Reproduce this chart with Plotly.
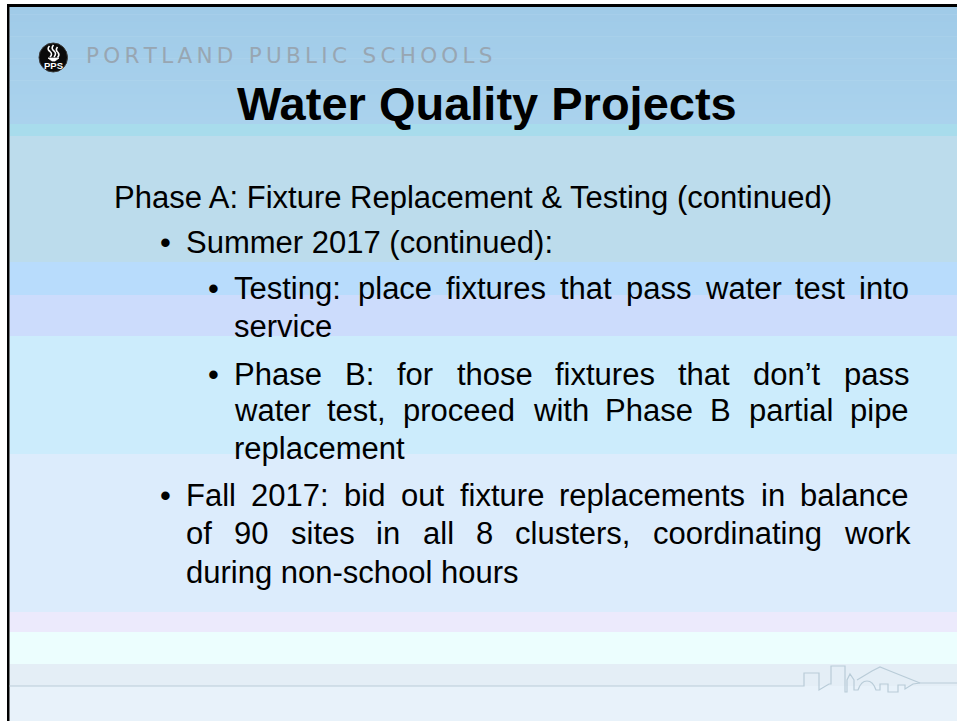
import plotly.graph_objects as go

# ---------------- content ----------------
HEADER_TEXT = "PORTLAND PUBLIC SCHOOLS"
LOGO_TEXT = "PPS"
TITLE = "Water Quality Projects"
BODY_LINES = [
    "Phase A: Fixture Replacement & Testing (continued)",
    "Summer 2017 (continued):",
    "Testing: place fixtures that pass water test into",
    "service",
    "Phase B: for those fixtures that don\u2019t pass",
    "water test, proceed with Phase B partial pipe",
    "replacement",
    "Fall 2017: bid out fixture replacements in balance",
    "of 90 sites in all 8 clusters, coordinating work",
    "during non-school hours",
]
LINE_LEVEL = [0, 1, 2, 2, 2, 2, 2, 1, 1, 1]
LINE_BULLET = [0, 1, 1, 0, 1, 0, 0, 1, 0, 0]
LINE_JUSTIFIED = [0, 0, 1, 0, 1, 1, 0, 1, 1, 0]

# ---------------- layout constants ----------------
W, H = 957, 721
BASELINES = [208, 253, 299, 337, 385, 421, 459, 506, 544, 583]
TEXT_X = {0: 113, 1: 185, 2: 233}
BULLET_X = {1: 158.5, 2: 206.5}
RIGHT_EDGE = 908
BODY_SIZE = 31
FONT = "Liberation Sans, Arial, sans-serif"

BAND_EDGES = [124, 136, 262, 295, 336, 454, 612, 632, 664, 686, 721]
BAND_COLORS = ["#a8dcec", "#bcdcec", "#b8dcfc", "#ccdcfc", "#ccecfc",
               "#dcecfc", "#eceafc", "#ecfefe", "#e4eef6", "#e8f2fa"]

# Arial advance widths (1/1000 em)
ARIAL = {' ': 278, '&': 667, '\u2019': 222, '(': 333, ')': 333, ',': 278, '-': 333,
         '.': 278, ':': 278,
         'A': 667, 'B': 667, 'C': 722, 'D': 722, 'E': 667, 'F': 611, 'G': 778, 'H': 722,
         'I': 278, 'J': 500, 'K': 667, 'L': 556, 'M': 833, 'N': 722, 'O': 778, 'P': 667,
         'Q': 778, 'R': 722, 'S': 667, 'T': 611, 'U': 722, 'V': 667, 'W': 944, 'X': 667,
         'Y': 667, 'Z': 611,
         'a': 556, 'b': 556, 'c': 500, 'd': 556, 'e': 556, 'f': 278, 'g': 556, 'h': 556,
         'i': 222, 'j': 222, 'k': 500, 'l': 222, 'm': 833, 'n': 556, 'o': 556, 'p': 556,
         'q': 556, 'r': 333, 's': 500, 't': 278, 'u': 556, 'v': 500, 'w': 722, 'x': 500,
         'y': 500, 'z': 500}


def text_w(s, size):
    return sum(ARIAL.get(c, 556) for c in s) / 1000.0 * size


def interp(c1, c2, t):
    a = [int(c1[i:i + 2], 16) for i in (1, 3, 5)]
    b = [int(c2[i:i + 2], 16) for i in (1, 3, 5)]
    return "#%02x%02x%02x" % tuple(round(a[k] + (b[k] - a[k]) * t) for k in range(3))


fig = go.Figure()
shapes = []
LEFT = 9.5

# top gradient header
steps = 16
y0, y1 = 7, BAND_EDGES[0]
for i in range(steps):
    ya = y0 + (y1 - y0) * i / steps
    yb = y0 + (y1 - y0) * (i + 1) / steps + 0.5
    shapes.append(dict(type="rect", x0=LEFT, x1=W, y0=ya, y1=yb, line_width=0,
                       fillcolor=interp("#a0cbe8", "#aad2ed", i / (steps - 1)), layer="below"))
# horizontal bands
for i, col in enumerate(BAND_COLORS):
    shapes.append(dict(type="rect", x0=LEFT, x1=W, y0=BAND_EDGES[i], y1=BAND_EDGES[i + 1] + 0.3,
                       line_width=0, fillcolor=col, layer="below"))

# slide border (top and left)
shapes.append(dict(type="rect", x0=7, x1=W, y0=4, y1=7, line_width=0, fillcolor="#000000"))
shapes.append(dict(type="rect", x0=7, x1=9.5, y0=4, y1=H, line_width=0, fillcolor="#000000"))

# skyline decoration
sky = ("M 9.5 686 L 804 686 L 804 673 L 819 673 L 819 690 L 829 684 L 831 684 L 831 666 "
       "L 845 666 L 845 692 L 847 692 L 847 680 L 850 674 L 854 680 L 854 690 L 858 690 "
       "Q 861 681 867 681 Q 873 681 876 690 L 880 690 L 880 684 L 888 684 L 888 692 "
       "L 898 692 L 898 685 L 905 685 L 905 689 L 913 684 L 920 683 L 957 683")
shapes.append(dict(type="path", path=sky, line=dict(color="#b9ccd8", width=1.2)))
shapes.append(dict(type="path", path="M 857 680 L 872 671 L 880 667 L 890 671 L 905 677 L 920 683",
                   line=dict(color="#b9ccd8", width=1.2)))

# logo
shapes.append(dict(type="circle", x0=39, x1=67.5, y0=43, y1=72, fillcolor="#0a0a0a",
                   line=dict(color="#3a3a3a", width=1)))
for p in ["M 49.5 46 Q 46.5 49 50 51.5 Q 53 54 50 57",
          "M 53.5 45 Q 50.5 48.5 54 51 Q 57 53.5 54 57",
          "M 57.5 47 Q 55 50 58 52.5 Q 60 55 57.5 57.5"]:
    shapes.append(dict(type="path", path=p, line=dict(color="#ffffff", width=1.6)))
shapes.append(dict(type="path", path="M 48 58 L 59 58 L 55 61 L 52 61 Z",
                   fillcolor="#ffffff", line=dict(color="#ffffff", width=0.8)))

ann = []
ann.append(dict(x=53.5, y=65.5, text="<b>%s</b>" % LOGO_TEXT, showarrow=False, xanchor="center",
                yanchor="middle", font=dict(family=FONT, size=9.5, color="#ffffff"), borderpad=0))

# header text with letter spacing
spaced = "\u2009".join(HEADER_TEXT)
ann.append(dict(x=85, y=55.5, text=spaced, showarrow=False, xanchor="left", yanchor="middle",
                font=dict(family="DejaVu Sans, sans-serif", size=21.5, color="#98a6b2"), borderpad=0))

# title
TITLE_SIZE = 47
ann.append(dict(x=487, y=120 - 0.3465 * TITLE_SIZE, text="<b>%s</b>" % TITLE, showarrow=False,
                xanchor="center", yanchor="middle",
                font=dict(family=FONT, size=TITLE_SIZE, color="#000000"), borderpad=0))

# body
off = 0.3465 * BODY_SIZE
for i, line in enumerate(BODY_LINES):
    lvl = LINE_LEVEL[i]
    yc = BASELINES[i] - off
    x0 = TEXT_X[lvl]
    if LINE_BULLET[i]:
        ann.append(dict(x=BULLET_X[lvl], y=yc, text="\u2022", showarrow=False, xanchor="left",
                        yanchor="middle", font=dict(family=FONT, size=BODY_SIZE, color="#000000"),
                        borderpad=0))
    if LINE_JUSTIFIED[i]:
        words = line.split(" ")
        widths = [text_w(wd, BODY_SIZE) for wd in words]
        gap = (RIGHT_EDGE - x0 - sum(widths)) / (len(words) - 1)
        x = x0
        for wd, wdt in zip(words, widths):
            ann.append(dict(x=x, y=yc, text=wd, showarrow=False, xanchor="left", yanchor="middle",
                            font=dict(family=FONT, size=BODY_SIZE, color="#000000"), borderpad=0))
            x += wdt + gap
    else:
        ann.append(dict(x=x0, y=yc, text=line, showarrow=False, xanchor="left", yanchor="middle",
                        font=dict(family=FONT, size=BODY_SIZE, color="#000000"), borderpad=0))

fig.update_layout(
    width=W, height=H, margin=dict(l=0, r=0, t=0, b=0),
    paper_bgcolor="#ffffff", plot_bgcolor="#ffffff",
    xaxis=dict(range=[0, W], visible=False, fixedrange=True),
    yaxis=dict(range=[H, 0], visible=False, fixedrange=True),
    shapes=shapes, annotations=ann, showlegend=False,
)
fig.write_html(
    "out.html",
    config={"displayModeBar": False},
    post_script="document.body.style.margin='0';document.body.style.overflow='hidden';",
)
